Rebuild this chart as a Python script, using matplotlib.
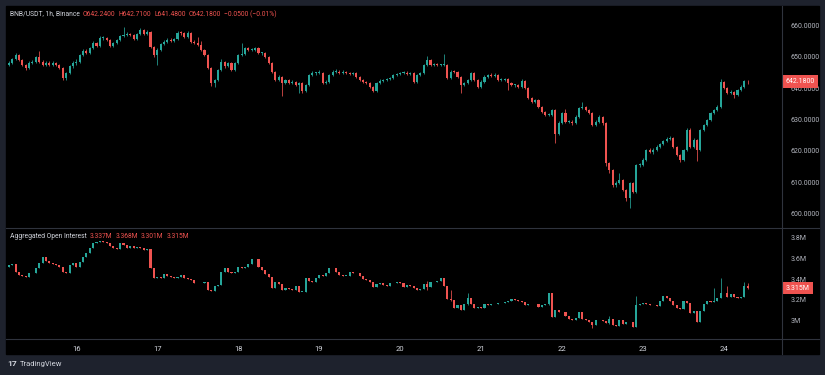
import numpy as np
import matplotlib.pyplot as plt
import matplotlib.transforms as mtrans
from matplotlib.patches import Rectangle
from matplotlib.lines import Line2D

# BNB/USDT 1h candles, hourly from the 15th 03:00 to the 24th 07:00
price_close = [
    647.5, 648.2, 649.3, 650.7, 649.1, 647.5, 646.4, 648.2, 648.5, 649.9,
    648.5, 647.5, 648.2, 647.5, 648.2, 647.5, 646.4, 643.2, 644.8, 647.0,
    648.2, 648.5, 650.7, 652.0, 651.4, 652.8, 654.4, 653.5, 656.0, 656.0,
    655.5, 653.5, 654.4, 655.5, 656.7, 657.1, 657.4, 657.0, 655.7, 657.4,
    658.7, 657.4, 658.0, 653.3, 650.7, 652.3, 654.2, 654.9, 655.5, 655.2,
    655.7, 657.8, 657.6, 656.5, 657.8, 654.9, 654.4, 653.9, 652.3, 650.7,
    646.4, 641.6, 642.7, 645.9, 648.5, 647.0, 648.0, 645.9, 648.0, 650.7,
    651.0, 652.8, 652.3, 652.3, 652.8, 651.2, 651.2, 650.1, 648.0, 645.3,
    642.7, 643.7, 641.6, 642.7, 641.6, 642.1, 641.1, 641.6, 639.0, 641.0,
    644.3, 644.8, 644.8, 645.0, 641.6, 642.1, 644.3, 645.3, 645.3, 644.8,
    645.0, 644.8, 644.6, 644.8, 643.7, 642.7, 642.1, 641.6, 640.5, 639.2,
    641.6, 642.4, 642.7, 642.9, 643.2, 644.3, 644.6, 644.8, 645.0, 644.6,
    644.8, 642.1, 644.3, 644.8, 647.5, 649.1, 647.5, 647.6, 647.4, 647.5,
    647.5, 643.2, 645.3, 645.2, 643.7, 641.1, 641.6, 642.7, 644.8, 642.7,
    640.5, 642.1, 643.7, 644.3, 644.0, 644.3, 642.7, 642.7, 642.9, 641.6,
    641.0, 641.0, 640.5, 642.4, 640.0, 636.8, 635.7, 636.2, 634.1, 632.5,
    631.5, 631.5, 633.0, 625.5, 629.0, 632.0, 629.3, 629.3, 628.8, 630.9,
    633.6, 634.1, 633.1, 632.0, 628.3, 629.3, 630.9, 628.8, 616.0, 613.9,
    609.1, 609.6, 610.7, 607.5, 604.8, 609.6, 606.9, 615.5, 615.5, 617.1,
    620.3, 619.7, 620.3, 621.3, 622.2, 623.2, 623.7, 624.2, 621.3, 618.6,
    617.1, 620.3, 626.7, 621.3, 623.5, 620.3, 626.7, 628.3, 629.9, 632.0,
    633.1, 634.1, 642.1, 640.0, 638.4, 638.9, 637.9, 639.5, 640.5, 642.24,
    642.18,
]
price_high = [
    648.0, 648.7, 649.8, 651.3, 651.0, 649.4, 647.8, 648.6, 649.0, 650.4,
    652.0, 648.9, 648.7, 648.6, 648.8, 648.5, 647.9, 646.7, 645.3, 647.4,
    648.6, 649.4, 651.1, 652.6, 652.4, 653.3, 655.0, 654.9, 656.6, 656.6,
    656.4, 655.8, 654.8, 655.9, 657.1, 659.5, 657.9, 657.8, 657.3, 657.8,
    659.2, 659.0, 658.6, 658.4, 653.6, 652.8, 654.6, 655.4, 656.0, 656.1,
    656.2, 658.2, 658.3, 658.0, 658.2, 658.1, 655.3, 656.3, 655.0, 652.6,
    651.0, 646.7, 643.1, 646.3, 649.5, 648.8, 648.4, 648.3, 648.4, 651.1,
    654.4, 653.2, 653.2, 652.8, 653.2, 653.1, 651.7, 651.6, 650.4, 648.3,
    645.6, 644.2, 644.0, 643.1, 643.0, 642.5, 642.4, 642.0, 641.9, 641.4,
    644.7, 645.5, 645.3, 645.8, 645.3, 642.5, 644.7, 645.7, 646.3, 645.7,
    645.9, 645.4, 645.2, 645.2, 645.1, 644.0, 643.0, 642.4, 641.9, 640.8,
    642.0, 642.8, 643.1, 643.3, 643.6, 644.7, 645.0, 645.2, 645.4, 645.4,
    645.2, 645.1, 644.7, 645.2, 647.9, 650.2, 649.4, 648.0, 648.0, 647.9,
    651.0, 647.8, 645.7, 645.7, 645.5, 644.0, 642.0, 643.1, 645.2, 645.1,
    643.0, 642.5, 644.1, 644.7, 645.0, 644.8, 644.6, 643.2, 643.3, 643.2,
    641.9, 641.5, 641.3, 642.8, 642.7, 640.3, 637.1, 636.6, 636.5, 634.4,
    632.8, 632.0, 633.4, 633.3, 629.4, 632.4, 633.2, 630.0, 629.7, 631.3,
    634.0, 635.6, 634.4, 633.4, 632.3, 629.7, 631.3, 631.2, 629.1, 616.3,
    614.2, 610.2, 612.8, 611.0, 607.8, 610.0, 609.9, 615.9, 616.2, 617.6,
    620.7, 621.0, 620.8, 621.7, 622.6, 623.6, 624.3, 624.7, 624.5, 621.6,
    618.9, 620.7, 627.3, 627.2, 624.0, 623.8, 627.1, 628.7, 630.3, 632.4,
    633.5, 634.6, 642.9, 642.4, 640.3, 639.3, 639.2, 639.9, 640.9, 642.6,
    642.71,
]
price_low = [
    646.5, 647.1, 647.9, 649.0, 648.8, 647.2, 645.9, 646.0, 647.8, 648.2,
    648.1, 647.1, 647.2, 647.0, 647.2, 647.0, 646.0, 642.5, 642.6, 644.4,
    646.5, 647.4, 648.2, 650.3, 650.9, 651.0, 652.5, 653.1, 653.2, 655.4,
    655.1, 653.1, 653.1, 654.0, 655.2, 656.3, 656.7, 656.6, 655.3, 655.4,
    657.1, 657.0, 657.0, 652.8, 650.1, 647.4, 651.9, 653.9, 654.5, 654.8,
    654.9, 655.4, 657.1, 656.1, 656.2, 654.5, 654.0, 653.5, 652.0, 650.3,
    646.0, 640.7, 640.3, 642.4, 645.6, 646.6, 646.7, 645.5, 645.6, 647.7,
    650.3, 650.7, 651.9, 651.8, 651.9, 650.9, 650.7, 649.7, 647.6, 644.9,
    642.3, 642.3, 637.5, 641.2, 641.2, 641.2, 640.7, 638.5, 638.6, 638.7,
    640.7, 644.0, 644.3, 644.5, 641.2, 641.2, 641.8, 644.0, 644.8, 644.4,
    644.5, 644.4, 644.2, 644.2, 643.3, 642.3, 641.7, 641.2, 640.1, 638.8,
    638.9, 641.3, 642.0, 642.3, 642.6, 642.9, 644.0, 644.3, 644.5, 644.2,
    644.3, 641.7, 641.8, 644.0, 644.5, 647.2, 647.1, 647.1, 647.0, 647.0,
    647.0, 642.8, 642.9, 644.8, 643.3, 638.4, 640.7, 641.3, 642.4, 642.3,
    640.1, 640.2, 641.8, 643.4, 643.6, 643.6, 642.3, 642.2, 642.3, 639.5,
    640.6, 640.5, 640.1, 640.2, 639.6, 636.4, 635.3, 635.3, 633.7, 632.1,
    631.1, 631.0, 631.2, 622.5, 625.1, 628.7, 628.9, 628.8, 628.4, 628.5,
    630.6, 633.3, 632.7, 631.6, 627.9, 628.0, 629.0, 628.4, 615.0, 613.0,
    608.5, 608.4, 609.3, 607.0, 604.0, 601.6, 606.4, 606.6, 614.8, 615.0,
    616.8, 619.3, 619.0, 620.0, 621.0, 621.9, 622.9, 623.4, 620.9, 618.2,
    616.5, 616.8, 620.0, 620.9, 621.0, 616.8, 620.0, 626.4, 628.0, 629.6,
    631.7, 632.8, 633.8, 639.6, 638.0, 638.0, 636.8, 637.6, 639.2, 640.2,
    641.48,
]
price_first_open = 647.0

# aggregated open interest, millions
oi_close = [
    3.520, 3.537, 3.543, 3.472, 3.440, 3.430, 3.424, 3.456, 3.456, 3.504,
    3.552, 3.610, 3.575, 3.552, 3.543, 3.537, 3.520, 3.472, 3.463, 3.537,
    3.552, 3.520, 3.569, 3.617, 3.649, 3.697, 3.745, 3.761, 3.768, 3.755,
    3.745, 3.723, 3.704, 3.691, 3.745, 3.730, 3.704, 3.720, 3.700, 3.713,
    3.697, 3.681, 3.690, 3.504, 3.414, 3.424, 3.414, 3.447, 3.434, 3.424,
    3.408, 3.424, 3.440, 3.408, 3.402, 3.392, 3.360, 3.360, 3.360, 3.376,
    3.296, 3.286, 3.330, 3.344, 3.472, 3.504, 3.472, 3.456, 3.472, 3.520,
    3.510, 3.520, 3.543, 3.591, 3.591, 3.520, 3.488, 3.447, 3.424, 3.312,
    3.370, 3.350, 3.296, 3.312, 3.305, 3.296, 3.334, 3.280, 3.280, 3.414,
    3.382, 3.376, 3.408, 3.440, 3.430, 3.456, 3.504, 3.510, 3.466, 3.440,
    3.434, 3.434, 3.472, 3.456, 3.456, 3.434, 3.402, 3.392, 3.370, 3.328,
    3.350, 3.360, 3.344, 3.337, 3.360, 3.360, 3.370, 3.360, 3.328, 3.344,
    3.334, 3.318, 3.296, 3.305, 3.350, 3.328, 3.370, 3.370, 3.382, 3.408,
    3.337, 3.209, 3.200, 3.119, 3.150, 3.103, 3.157, 3.215, 3.157, 3.119,
    3.135, 3.119, 3.157, 3.150, 3.157, 3.163, 3.167, 3.167, 3.183, 3.190,
    3.209, 3.200, 3.190, 3.183, 3.151, 3.157, 3.157, 3.157, 3.135, 3.151,
    3.157, 3.263, 3.038, 3.103, 3.087, 3.080, 3.048, 3.013, 3.006, 3.029,
    3.080, 3.016, 3.006, 2.984, 2.958, 3.006, 3.003, 2.997, 2.974, 3.016,
    2.958, 2.952, 3.006, 2.965, 2.984, 2.990, 2.942, 3.151, 3.157, 3.167,
    3.157, 3.151, 3.151, 3.144, 3.190, 3.234, 3.222, 3.190, 3.151, 3.119,
    3.112, 3.190, 3.167, 3.071, 3.093, 2.990, 3.093, 3.157, 3.190, 3.183,
    3.190, 3.222, 3.263, 3.263, 3.231, 3.254, 3.231, 3.222, 3.231, 3.337,
    3.315,
]
oi_first_open = 3.51
# the few visible OI wicks: index -> (high, low)
oi_wicks = {
    125: (3.382, 3.296), 132: (3.296, 3.190), 137: (3.263, 3.150),
    161: (3.270, 3.150), 174: (2.990, 2.926), 179: (3.048, 2.970),
    187: (3.241, 2.940), 210: (3.312, 3.180), 212: (3.408, 3.220),
    214: (3.337, 3.225), 219: (3.370, 3.225), 220: (3.368, 3.301),
}

days = [16, 17, 18, 19, 20, 21, 22, 23, 24]
price_ticks = [600, 610, 620, 630, 640, 650, 660]
oi_ticks = [3.0, 3.2, 3.4, 3.6, 3.8]
oi_tick_labels = ["3M", "3.2M", "3.4M", "3.6M", "3.8M"]

header = [("BNB/USDT, 1h, Binance", "#d1d4dc"), ("O642.2400", "#ef5350"),
          ("H642.7100", "#ef5350"), ("L641.4800", "#ef5350"),
          ("C642.1800", "#ef5350"), ("\u22120.0500 (\u22120.01%)", "#ef5350")]
oi_header = [("Aggregated Open Interest", "#d1d4dc"), ("3.337M", "#ef5350"),
             ("3.368M", "#ef5350"), ("3.301M", "#ef5350"), ("3.315M", "#ef5350")]

UP, DOWN = "#26a69a", "#ef5350"
TXT = "#b2b5be"
LINE = "#2f333d"
FONT = "Roboto"

W, H = 825, 375
plt.rcParams["font.family"] = [FONT, "DejaVu Sans"]
fig = plt.figure(figsize=(W / 100, H / 100), dpi=100, facecolor="#1e222d")


def px_box(x0, y0, x1, y1):
    return [x0 / W, 1 - y1 / H, (x1 - x0) / W, (y1 - y0) / H]


fig.patches.append(Rectangle((6 / W, 1 - 354 / H), 813 / W, 348 / H,
                             transform=fig.transFigure, color="black", zorder=-5))

ax1 = fig.add_axes(px_box(6, 6, 782, 228))
ax2 = fig.add_axes(px_box(6, 228, 782, 339), sharex=ax1)

n = len(price_close)
t = 15 + (3 + np.arange(n)) / 24.0  # hourly time in days


def draw_candles(ax, o, h, l, c, min_body):
    up = c >= o
    cols = np.where(up, UP, DOWN)
    ax.vlines(t, l, h, colors=cols, lw=0.55, zorder=2)
    ax.bar(t, np.maximum(np.abs(c - o), min_body), bottom=np.minimum(o, c),
           width=0.62 / 24, color=cols, lw=0, zorder=3)


pc = np.array(price_close)
po = np.concatenate([[price_first_open], pc[:-1]])
draw_candles(ax1, po, np.array(price_high), np.array(price_low), pc, 0.25)

oc = np.array(oi_close)
oo = np.concatenate([[oi_first_open], oc[:-1]])
oh = np.maximum(oo, oc)
ol = np.minimum(oo, oc)
for i, (hi, lo) in oi_wicks.items():
    oh[i] = max(oh[i], hi)
    ol[i] = min(ol[i], lo)
draw_candles(ax2, oo, oh, ol, oc, 0.005)

for ax in (ax1, ax2):
    ax.set_facecolor("black")
    for s in ax.spines.values():
        s.set_visible(False)
    ax.yaxis.tick_right()
    ax.tick_params(axis="y", length=0, pad=6, labelsize=5, labelcolor=TXT)

# day 16 sits at x=76 px, one day is 81 px, plot spans 6..782 px
ax1.set_xlim(16 + (6 - 76) / 81 - 0.004, 16 + (782 - 76) / 81)
ax1.set_ylim(595.3, 666.3)
ax1.set_yticks(price_ticks)
ax1.set_yticklabels([f"{v:.4f}" for v in price_ticks])
ax1.tick_params(axis="x", bottom=False, labelbottom=False)

ax2.set_ylim(2.8236, 3.8935)
ax2.set_yticks(oi_ticks)
ax2.set_yticklabels(oi_tick_labels)
ax2.set_xticks(days)
ax2.set_xticklabels([str(d) for d in days])
ax2.tick_params(axis="x", length=0, pad=5, labelsize=5.5, labelcolor="#d1d4dc")

# last value tags on the price scales
for ax, val, txt in ((ax1, pc[-1], f"{pc[-1]:.4f}"), (ax2, oc[-1], f"{oc[-1]:.3f}M")):
    tr = mtrans.blended_transform_factory(ax.transAxes, ax.transData)
    ax.text(1 + 4 / 776, val, txt, transform=tr, ha="left", va="center",
            fontsize=5, color="white", clip_on=False, zorder=10,
            bbox=dict(boxstyle="square,pad=0.4", fc=DOWN, ec="none"))

# separators
for (x0, y0, x1, y1) in ((6, 228, 819, 228), (6, 339, 819, 339), (782, 6, 782, 354)):
    fig.add_artist(Line2D([x0 / W, x1 / W], [1 - y0 / H, 1 - y1 / H],
                          transform=fig.transFigure, color=LINE, lw=0.8))

fig.canvas.draw()
renderer = fig.canvas.get_renderer()


def text_row(parts, x_px, y_px, size, gap_px):
    x = x_px
    for s, col in parts:
        tx = fig.text(x / W, 1 - y_px / H, s, color=col, fontsize=size, va="center", ha="left")
        bb = tx.get_window_extent(renderer)
        x = bb.x1 + gap_px


text_row(header, 10, 14, 4.9, 3.0)
text_row(oi_header, 10, 237, 4.9, 3.0)

fig.text(7 / W, 1 - 364 / H, "17", color="#d1d4dc", fontsize=6, weight="bold", va="center")
fig.text(20 / W, 1 - 364 / H, "TradingView", color="#d1d4dc", fontsize=5.5, va="center")

fig.savefig("out.png", dpi=100, facecolor=fig.get_facecolor())
